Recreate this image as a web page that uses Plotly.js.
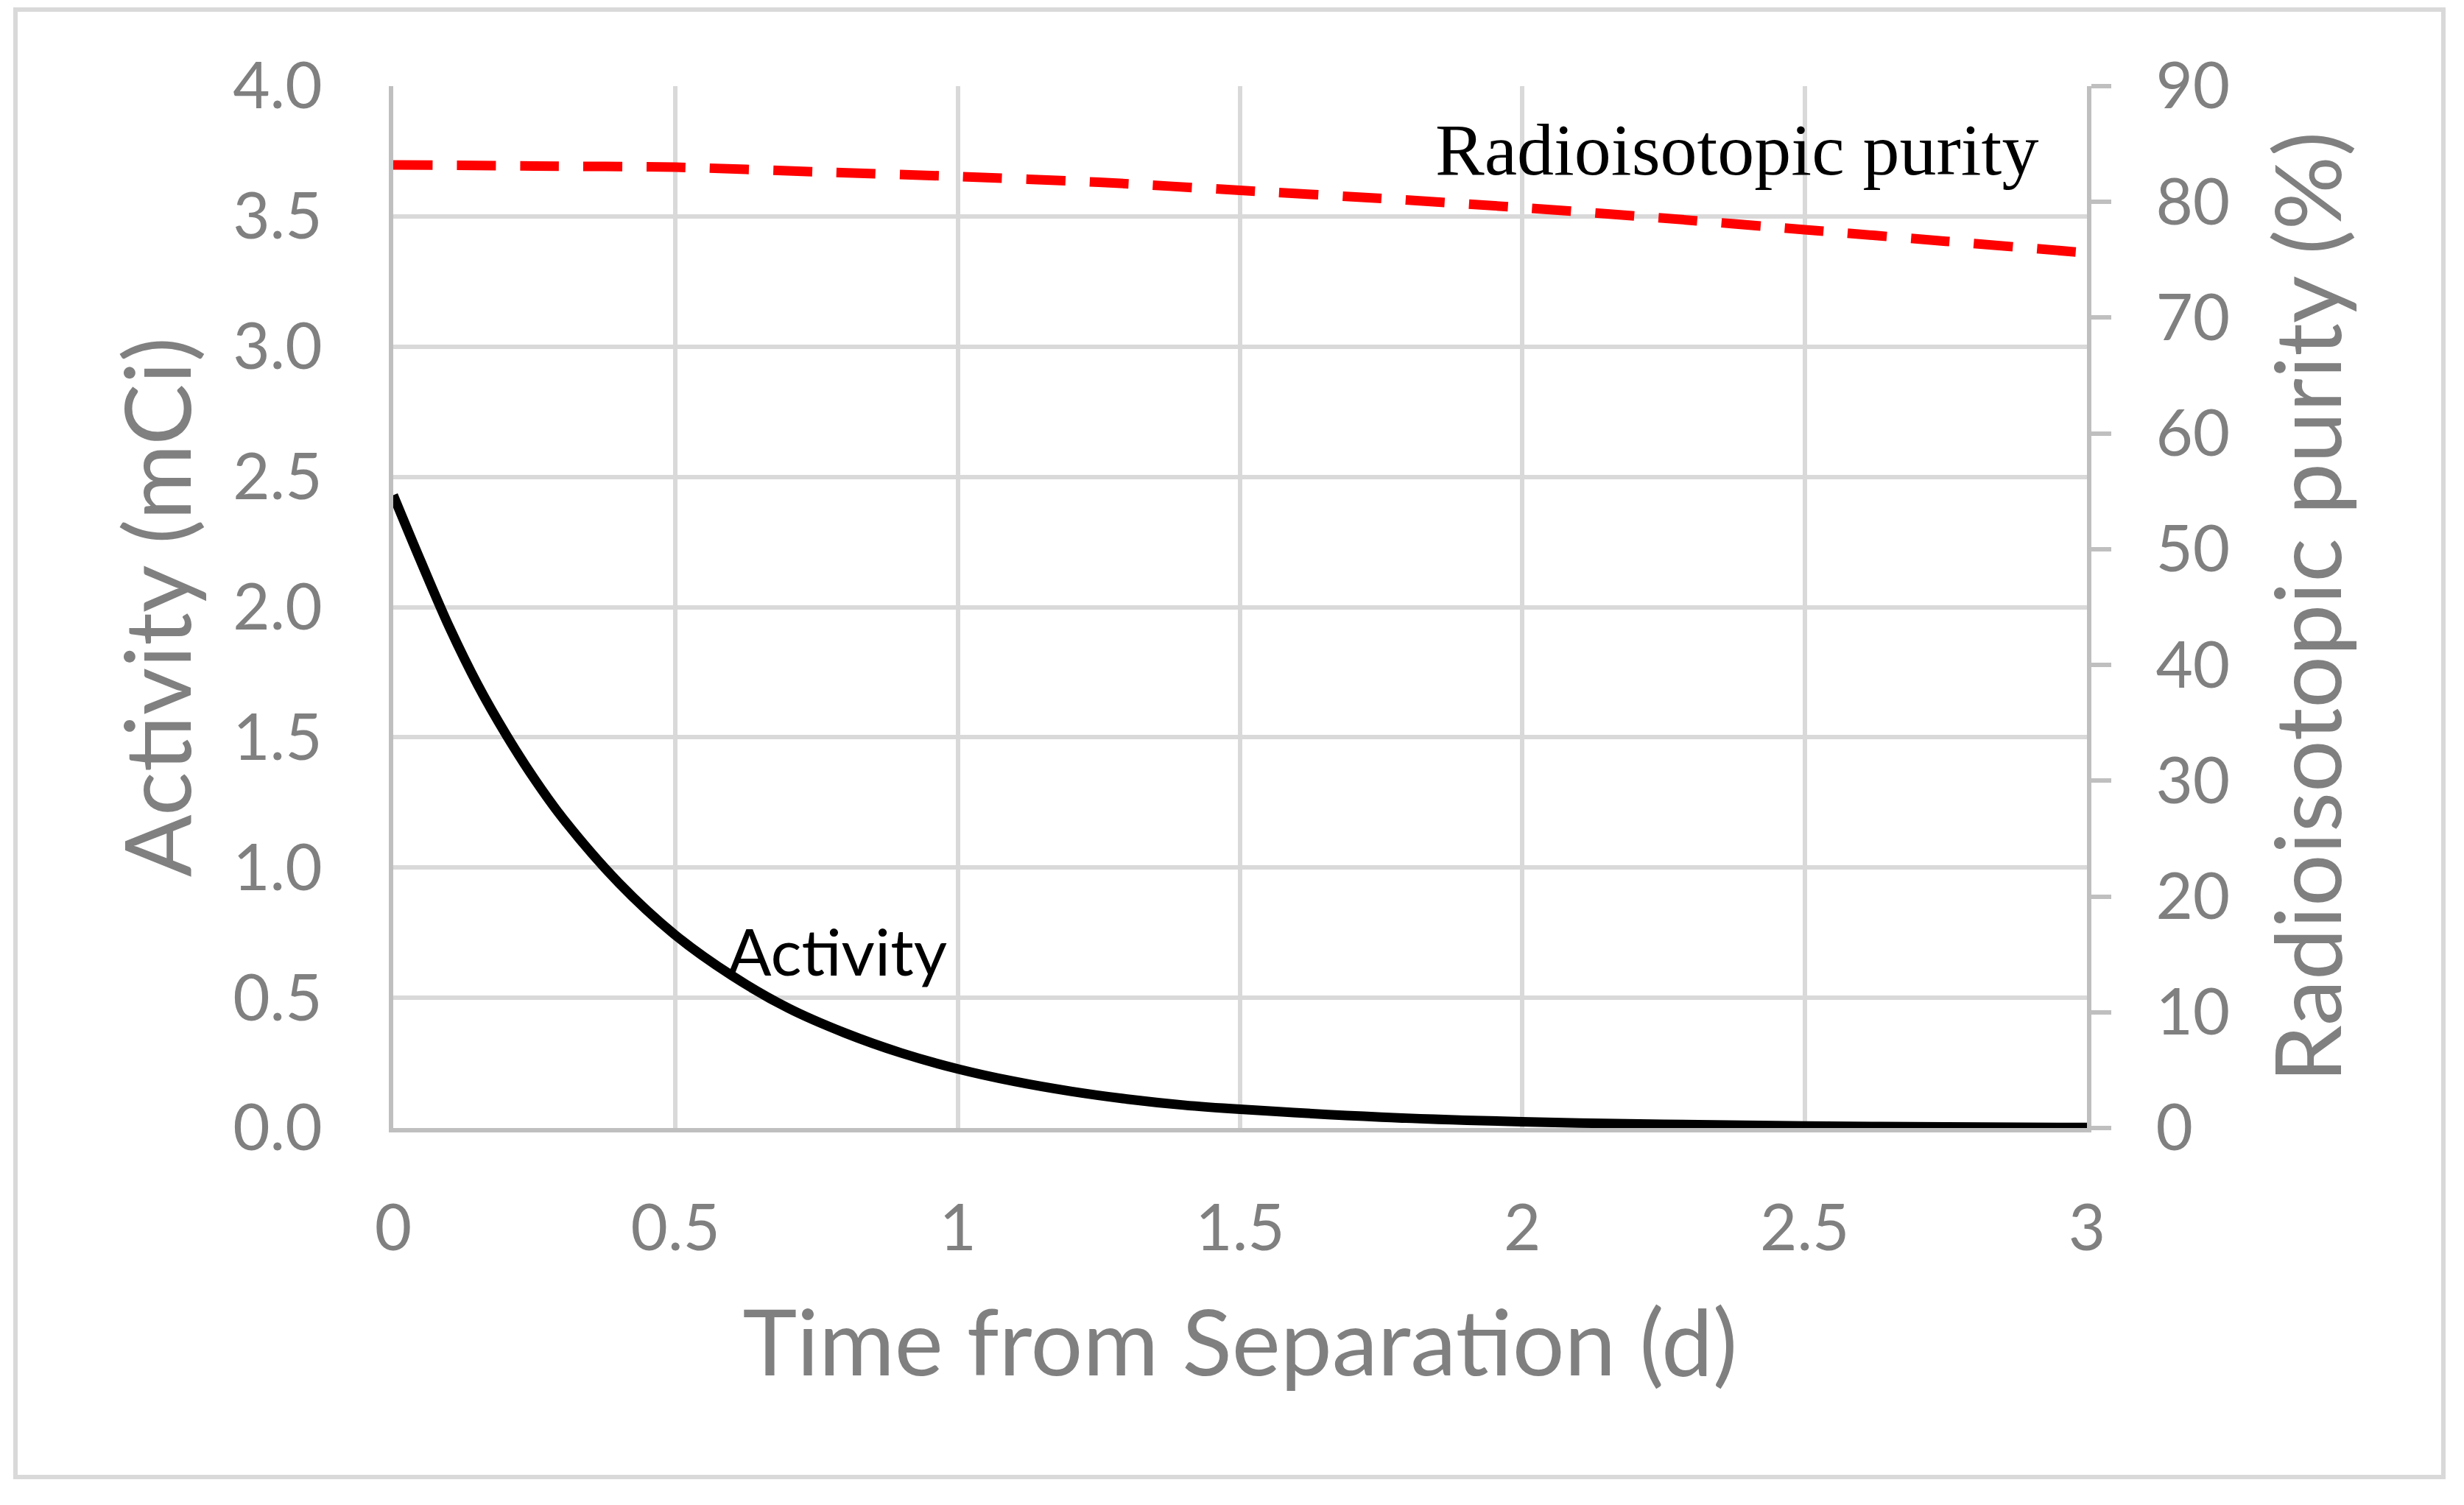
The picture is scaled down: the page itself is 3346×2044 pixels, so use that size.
<!DOCTYPE html>
<html>
<head>
<meta charset="utf-8">
<script src="https://cdn.plot.ly/plotly-3.0.1.min.js"></script>
<style>
  html,body{margin:0;padding:0;background:#fff;}
  #chart{width:3346px;height:2044px;}
</style>
</head>
<body>
<div id="chart"></div>
<script>
// activity (mCi), fine steps where it falls fast
const actTime = [0,0.05,0.1,0.15,0.2,0.25,0.3,0.4,0.5,0.6,0.7,0.8,0.9,1.0,1.1,1.2,1.3,1.4,1.5,1.75,2.0,2.25,2.5,2.75,3.0];
const activity = [2.43,2.17,1.92,1.70,1.51,1.34,1.19,0.94,0.74,0.585,0.46,0.365,0.288,0.227,0.179,0.141,0.111,0.088,0.072,0.042,0.024,0.014,0.008,0.004,0.002];

// radioisotopic purity (%) on the right axis
const purTime = [0,0.25,0.5,0.75,1.0,1.25,1.5,1.75,2.0,2.25,2.5,2.75,3.0];
const purity  = [83.2,83.1,83.0,82.6,82.2,81.7,81.0,80.3,79.5,78.6,77.6,76.6,75.6];

const xTitle = "Time from Separation (d)";
const yTitle = "Activity (mCi)";
const y2Title = "Radioisotopic purity (%)";

// inline series labels: [text, x (d), y]
const purLabel = ["Radioisotopic purity", 2.38, 84.5];
const actLabel = ["Activity", 0.787, 0.68];

const W=3346, H=2044;
const M={l:534,r:512,t:117,b:512};
const pw=W-M.l-M.r, ph=H-M.t-M.b;
const px2x=p=>(p-M.l)/pw, px2y=p=>(H-M.b-p)/ph;   // pixel -> paper, for the outer frame

const GREY="#808080", GRID="#d9d9d9", AXL="#bfbfbf";
const SANS="Lato, 'Open Sans', sans-serif";

const traces=[
  {x:actTime,y:activity,mode:"lines",line:{color:"#000",width:13,shape:"spline",smoothing:1},
   name:"Activity",hoverinfo:"x+y"},
  {x:purTime,y:purity,yaxis:"y2",mode:"lines",line:{color:"#ff0000",width:13,dash:"53px,33px",shape:"spline",smoothing:0.6},
   name:"Radioisotopic purity",hoverinfo:"x+y"}
];

const layout={
  width:W,height:H,margin:M,showlegend:false,
  paper_bgcolor:"#fff",plot_bgcolor:"#fff",
  font:{family:SANS,color:GREY,size:87},
  xaxis:{range:[0,3],dtick:0.5,tick0:0,showgrid:true,gridcolor:GRID,gridwidth:6,
    showline:true,linecolor:AXL,linewidth:6,zeroline:false,ticks:"",
    ticklabelstandoff:56,tickfont:{family:SANS,size:87,color:GREY},
    title:{text:xTitle,font:{family:SANS,size:125,color:GREY},standoff:66}},
  yaxis:{range:[0,4],dtick:0.5,tick0:0,tickformat:".1f",showgrid:true,gridcolor:GRID,gridwidth:6,
    showline:true,linecolor:AXL,linewidth:6,zeroline:false,ticks:"",
    ticklabelstandoff:73,tickfont:{family:SANS,size:87,color:GREY},
    title:{text:yTitle,font:{family:SANS,size:125,color:GREY},standoff:16}},
  yaxis2:{range:[0,90],dtick:10,tick0:0,overlaying:"y",side:"right",showgrid:false,
    showline:true,linecolor:AXL,linewidth:6,zeroline:false,
    ticks:"outside",ticklen:27,tickwidth:6,tickcolor:AXL,
    ticklabelstandoff:43,tickfont:{family:SANS,size:87,color:GREY},
    title:{text:y2Title,font:{family:SANS,size:125,color:GREY},standoff:66}},
  annotations:[
    {text:purLabel[0],x:purLabel[1],y:purLabel[2],xref:"x",yref:"y2",showarrow:false,
     xanchor:"center",yanchor:"middle",font:{family:"'Liberation Serif','Times New Roman',serif",size:100,color:"#000"}},
    {text:actLabel[0],x:actLabel[1],y:actLabel[2],xref:"x",yref:"y",showarrow:false,
     xanchor:"center",yanchor:"middle",font:{family:SANS,size:88,color:"#000"}}
  ],
  shapes:[
    {type:"rect",xref:"paper",yref:"paper",x0:px2x(21),x1:px2x(3318),y0:px2y(2006),y1:px2y(13),
     line:{color:GRID,width:6},fillcolor:"rgba(0,0,0,0)",layer:"below"}
  ]
};

Plotly.newPlot("chart",traces,layout,{displayModeBar:false,staticPlot:true});
</script>
</body>
</html>
